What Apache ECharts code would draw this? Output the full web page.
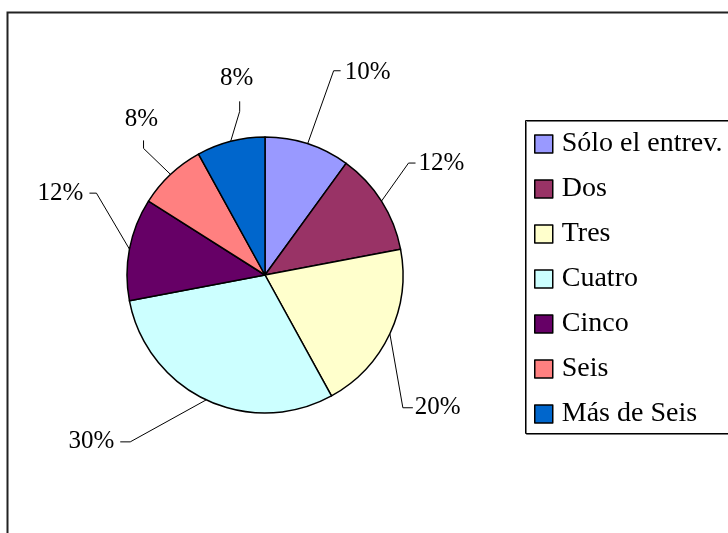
<!DOCTYPE html>
<html>
<head>
<meta charset="utf-8">
<script src="https://cdn.jsdelivr.net/npm/echarts@6/dist/echarts.min.js"></script>
<style>
html,body{margin:0;padding:0;background:#fff;}
#chart{width:728px;height:533px;}
</style>
</head>
<body>
<div id="chart"></div>
<script>
// ---- data ----
const categories = ['Sólo el entrev.', 'Dos', 'Tres', 'Cuatro', 'Cinco', 'Seis', 'Más de Seis'];
const values = [10, 12, 20, 30, 12, 8, 8];
const colors = ['#9999FF', '#993366', '#FFFFCC', '#CCFFFF', '#660066', '#FF8080', '#0066CC'];

// leader-line styling per slice: first segment, second segment, text offset, alignment
const leaderStyle = [
  { s1: [26, -73], s2: [7, 0],   t: [4, 2],   align: 'left',   va: 'middle' },
  { s1: [27, -38], s2: [7, 0],   t: [3, 0],   align: 'left',   va: 'middle' },
  { s1: [13, 74],  s2: [10, 0],  t: [2, 0],   align: 'left',   va: 'middle' },
  { s1: [-76, 42], s2: [-10, 0], t: [-6, 0],  align: 'right',  va: 'middle' },
  { s1: [-33, -56],s2: [-7, 0],  t: [-6, 0],  align: 'right',  va: 'middle' },
  { s1: [-27, -26],s2: [0, -8],  t: [-2, -8], align: 'center', va: 'bottom' },
  { s1: [9, -30],  s2: [0, -10], t: [-3, -10],align: 'center', va: 'bottom' }
];

const chart = echarts.init(document.getElementById('chart'), null, { renderer: 'canvas' });

const seriesData = categories.map((name, i) => ({
  name: name,
  value: values[i],
  itemStyle: { color: colors[i] }
}));

const option = {
  backgroundColor: '#ffffff',
  animation: false,
  graphic: [
    {
      type: 'rect', z: 0, silent: true,
      shape: { x: 7.5, y: 12.5, width: 800, height: 600 },
      style: { fill: '#ffffff', stroke: '#222', lineWidth: 2 }
    },
    {
      type: 'rect', z: 1, silent: true,
      shape: { x: 525.5, y: 120.5, width: 260, height: 313 },
      style: { fill: '#ffffff', stroke: '#000', lineWidth: 1,
               shadowColor: '#777', shadowOffsetX: 1, shadowOffsetY: 1, shadowBlur: 0 }
    }
  ],
  legend: {
    orient: 'vertical',
    left: 534,
    top: 130,
    padding: 0,
    itemWidth: 18,
    itemHeight: 18,
    itemGap: 17,
    icon: 'rect',
    itemStyle: { borderColor: '#000', borderWidth: 1.5 },
    textStyle: {
      fontFamily: '"Liberation Serif", "Times New Roman", serif',
      fontSize: 28,
      lineHeight: 28,
      color: '#000',
      padding: [0, 0, 0, 4]
    },
    data: categories
  },
  series: [{
    type: 'pie',
    center: [265, 275],
    radius: 138,
    startAngle: 90,
    clockwise: true,
    avoidLabelOverlap: false,
    itemStyle: { borderColor: '#000', borderWidth: 1.5 },
    label: {
      show: true,
      position: 'outside',
      formatter: p => values[p.dataIndex] + '%',
      fontFamily: '"Liberation Serif", "Times New Roman", serif',
      fontSize: 25,
      color: '#000'
    },
    labelLine: {
      show: true,
      length: 20,
      length2: 8,
      lineStyle: { color: '#000', width: 1 }
    },
    labelLayout: function (params) {
      const st = leaderStyle[params.dataIndex];
      const pts = params.labelLinePoints;
      if (!pts) return {};
      const p0 = pts[0];
      const p1 = [p0[0] + st.s1[0], p0[1] + st.s1[1]];
      const p2 = [p1[0] + st.s2[0], p1[1] + st.s2[1]];
      return {
        x: p2[0] + st.t[0],
        y: p2[1] + st.t[1],
        align: st.align,
        verticalAlign: st.va,
        labelLinePoints: [p0, p1, p2]
      };
    },
    emphasis: { disabled: true },
    data: seriesData
  }]
};

chart.setOption(option);
</script>
</body>
</html>
